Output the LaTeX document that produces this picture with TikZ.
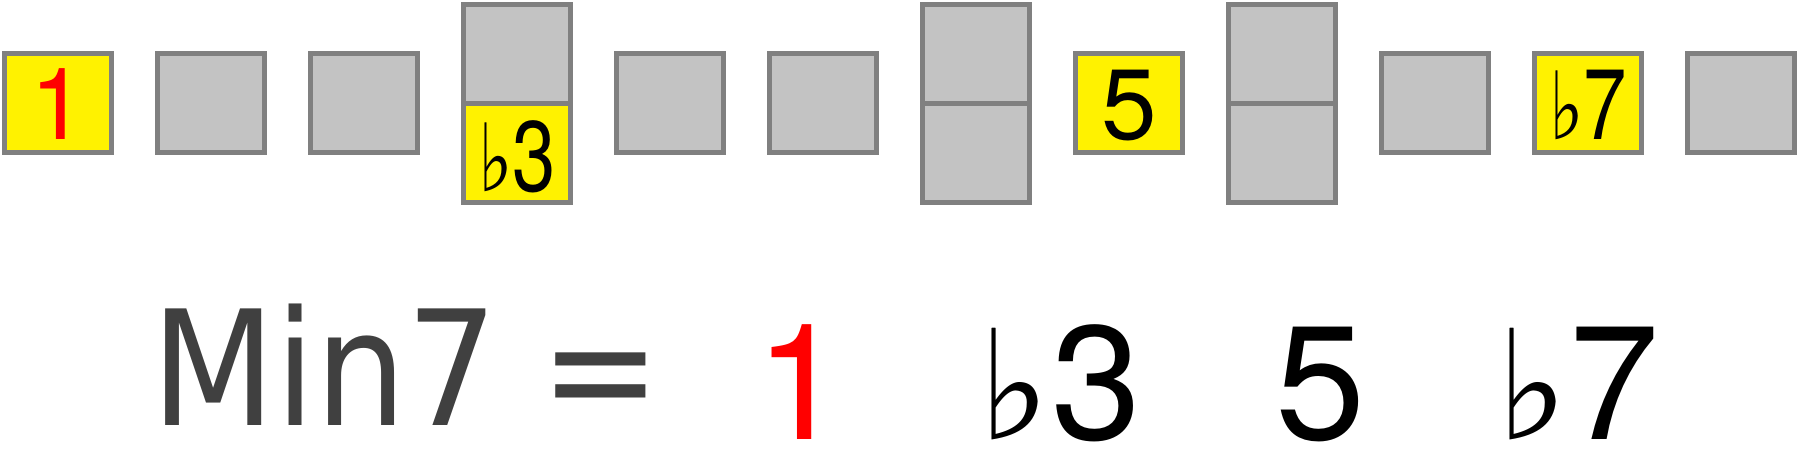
\documentclass[tikz,border=0pt]{standalone}
\usepackage{fontspec}
\setmainfont{TeX Gyre Heros}
\newfontfamily\minfont[FakeStretch=0.9]{DejaVu Sans}
\newfontfamily\flatfont{DejaVu Sans}
\definecolor{keyline}{RGB}{128,128,128}
\definecolor{keyfill}{RGB}{195,195,195}
\definecolor{keyyellow}{RGB}{255,242,0}
\definecolor{txtgray}{RGB}{64,64,64}
\newcommand{\flatsym}{{\flatfont\fontsize{0.94em}{1em}\selectfont ♭}}
\begin{document}
\begin{tikzpicture}[x=1pt,y=-1pt,
  cell/.style={draw=keyline, line width=5pt, fill=keyfill, minimum width=107pt, minimum height=99pt, inner sep=0pt, outer sep=0pt},
  hit/.style={cell, fill=keyyellow},
  toplbl/.style={anchor=base, inner sep=0pt, font=\fontsize{100}{100}\selectfont},
  botlbl/.style={inner sep=0pt, font=\fontsize{162}{162}\selectfont}]
\useasboundingbox (0,0) rectangle (1799,449);
% keys
\node[hit]  (k0) at (58,103) {};
\node[cell] (k1) at (211,103) {};
\node[cell] (k2) at (364,103) {};
\node[cell] (k3u) at (517,54) {};
\node[hit]  (k3l) at (517,153) {};
\node[cell] (k4) at (670,103) {};
\node[cell] (k5) at (823,103) {};
\node[cell] (k6u) at (976,54) {};
\node[cell] (k6l) at (976,153) {};
\node[hit]  (k7) at (1129,103) {};
\node[cell] (k8u) at (1282,54) {};
\node[cell] (k8l) at (1282,153) {};
\node[cell] (k9) at (1435,103) {};
\node[hit]  (k10) at (1588,103) {};
\node[cell] (k11) at (1741,103) {};
% key labels
\node[toplbl, text=red] (l0) at (58,140) {1};
\node[toplbl] (l3) at (517,192) {\scalebox{0.78}[1]{\flatsym3}};
\node[toplbl] (l7) at (1129,140) {5};
\node[toplbl] (l10) at (1588,140) {\scalebox{0.78}[1]{\flatsym7}};
% formula
\node[anchor=base west, inner sep=0pt, text=txtgray, font=\minfont\fontsize{160}{160}\selectfont] (chord) at (151,425) {Min7\kern-4pt\ =};
\node[botlbl, anchor=base, text=red] (f1) at (801,439) {1};
\node[botlbl, anchor=base east] (f3) at (1142,439) {\flatsym\kern1pt 3};
\node[botlbl, anchor=base] (f5) at (1321,439) {5};
\node[botlbl, anchor=base east] (f7) at (1660,439) {\flatsym\kern1pt 7};
\end{tikzpicture}
\end{document}
